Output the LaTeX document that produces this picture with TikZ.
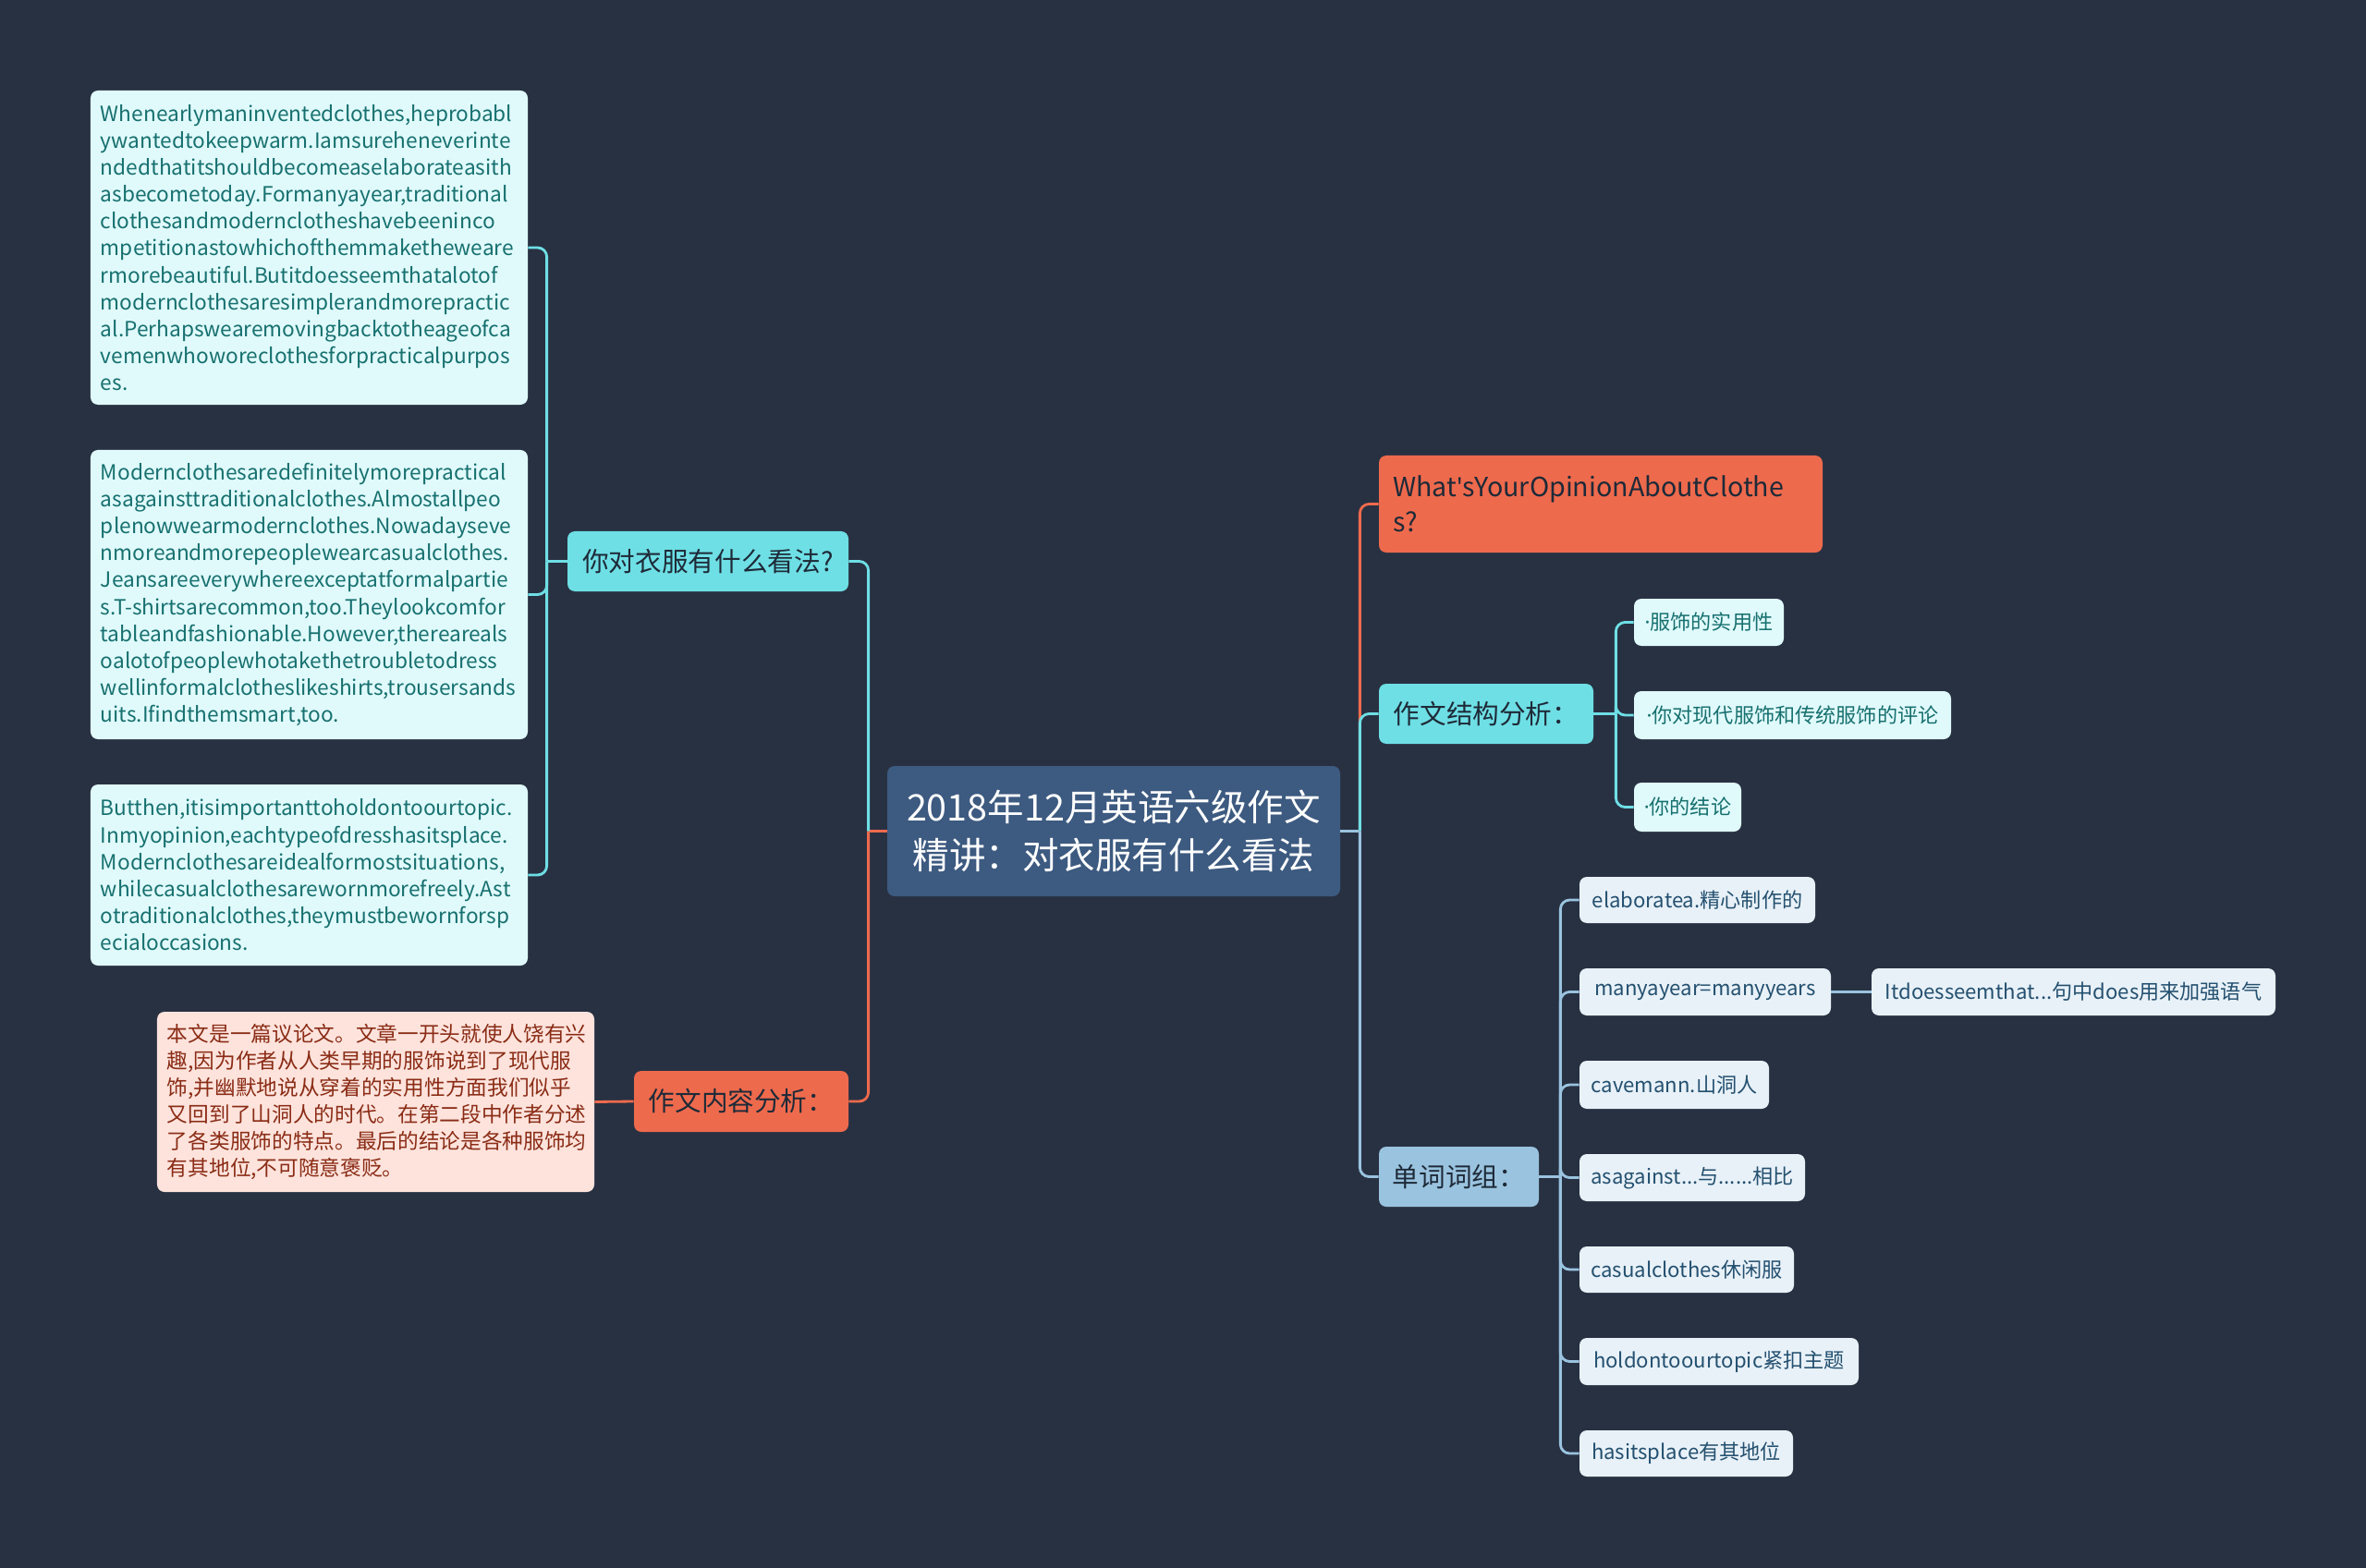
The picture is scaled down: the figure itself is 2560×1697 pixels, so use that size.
\documentclass[tikz,border=0pt]{standalone}
\usepackage{fontspec}
\setmainfont{Noto Sans CJK SC}
\newfontfamily\latinfont{Noto Sans}[Ligatures=TeXOff]
\usetikzlibrary{positioning,calc}
\usepackage{xcolor}
\definecolor{bgdark}{HTML}{283142}
\definecolor{rootblue}{HTML}{3D5A80}
\definecolor{topcyan}{HTML}{6EDFE5}
\definecolor{toporange}{HTML}{EE6A4D}
\definecolor{topblue}{HTML}{9AC3DF}
\definecolor{leafcyan}{HTML}{E0FAFB}
\definecolor{leafpink}{HTML}{FDE3DC}
\definecolor{leafblue}{HTML}{E8F1F8}
\definecolor{inkdark}{HTML}{1E2A38}
\definecolor{inkteal}{HTML}{17706F}
\definecolor{inkred}{HTML}{8A2C16}
\definecolor{inkblue}{HTML}{24506F}
\newcommand{\mdot}{{\latinfont ·}}

\begin{document}
\begin{tikzpicture}[x=0.2mm, y=-0.2mm,
  box/.style={rectangle, rounded corners=1.6mm, inner sep=0pt, align=center},
  rootbox/.style={box, fill=rootblue, text=white, font=\fontsize{22.5}{29.6}\selectfont},
  topicbox/.style={box, text=inkdark, font=\fontsize{16.3}{21.3}\selectfont},
  notebox/.style={box, align=left, inner xsep=2.2mm, font=\fontsize{12.9}{16.6}\selectfont},
  leafbox/.style={box, font=\fontsize{12.6}{16.6}\selectfont},
  ln/.style={line width=1.6pt, rounded corners=2mm}
]
  \fill[bgdark] (0,0) rectangle (2560,1697);
  \useasboundingbox (0,0) rectangle (2560,1697);

  % centre
  \node[rootbox, minimum width=98mm, minimum height=28.2mm] (root) at (1205,899.5)
    {2018年12月英语六级作文\\精讲：对衣服有什么看法};

  % left branches
  \node[topicbox, fill=topcyan, minimum width=60.8mm, minimum height=13mm] (opinion) at (766,607.5) {你对衣服有什么看法?};
  \node[topicbox, fill=toporange, minimum width=46.4mm, minimum height=13.2mm] (content) at (802,1192) {作文内容分析：};

  \node[notebox, fill=leafcyan, text=inkteal, text width=90.2mm, minimum height=68mm] (para1) at (334.5,268)
    {Whenearlymaninventedclothes,heprobabl\\ywantedtokeepwarm.Iamsureheneverinte\\ndedthatitshouldbecomeaselaborateasith\\asbecometoday.Formanyayear,traditional\\clothesandmodernclotheshavebeeninco\\mpetitionastowhichofthemmaketheweare\\rmorebeautiful.Butitdoesseemthatalotof\\modernclothesaresimplerandmorepractic\\al.Perhapswearemovingbacktotheageofca\\vemenwhoworeclothesforpracticalpurpos\\es.};
  \node[notebox, fill=leafcyan, text=inkteal, text width=90.2mm, minimum height=62.6mm] (para2) at (334.5,643.5)
    {Modernclothesaredefinitelymorepractical\\asagainsttraditionalclothes.Almostallpeo\\plenowwearmodernclothes.Nowadayseve\\nmoreandmorepeoplewearcasualclothes.\\Jeansareeverywhereexceptatformalpartie\\s.T-shirtsarecommon,too.Theylookcomfor\\tableandfashionable.However,thereareals\\oalotofpeoplewhotakethetroubletodress\\wellinformalclotheslikeshirts,trousersands\\uits.Ifindthemsmart,too.};
  \node[notebox, fill=leafcyan, text=inkteal, text width=90.2mm, minimum height=39.2mm] (para3) at (334.5,947)
    {Butthen,itisimportanttoholdontoourtopic.\\Inmyopinion,eachtypeofdresshasitsplace.\\Modernclothesareidealformostsituations,\\whilecasualclothesarewornmorefreely.Ast\\otraditionalclothes,theymustbewornforsp\\ecialoccasions.};
  \node[notebox, fill=leafpink, text=inkred, text width=90.2mm, minimum height=39mm] (summary) at (406.5,1192.5)
    {本文是一篇议论文。文章一开头就使人饶有兴\\趣,因为作者从人类早期的服饰说到了现代服\\饰,并幽默地说从穿着的实用性方面我们似乎\\又回到了山洞人的时代。在第二段中作者分述\\了各类服饰的特点。最后的结论是各种服饰均\\有其地位,不可随意褒贬。};

  % right branches
  \node[topicbox, fill=toporange, align=left, inner xsep=3mm, text width=90mm, minimum height=21mm] (title) at (1732,545.5)
    {What{\latinfont '}sYourOpinionAboutClothe\\s?};
  \node[topicbox, fill=topcyan, minimum width=46.4mm, minimum height=13mm] (structure) at (1608,772.5) {作文结构分析：};
  \node[topicbox, fill=topblue, minimum width=34.6mm, minimum height=13mm] (words) at (1578.5,1273.5) {单词词组：};

  \node[leafbox, fill=leafcyan, text=inkteal, minimum width=32.4mm, minimum height=10.2mm] (st1) at (1849,673.5) {\mdot 服饰的实用性};
  \node[leafbox, fill=leafcyan, text=inkteal, minimum width=68.6mm, minimum height=10.4mm] (st2) at (1939.5,774) {\mdot 你对现代服饰和传统服饰的评论};
  \node[leafbox, fill=leafcyan, text=inkteal, minimum width=23.2mm, minimum height=10.6mm] (st3) at (1826,873.5) {\mdot 你的结论};

  \node[leafbox, fill=leafblue, text=inkblue, minimum width=51mm, minimum height=10mm] (wd1) at (1836.5,974) {elaboratea.精心制作的};
  \node[leafbox, fill=leafblue, text=inkblue, minimum width=54.4mm, minimum height=10.2mm] (wd2) at (1845,1073.5) {manyayear=manyyears};
  \node[leafbox, fill=leafblue, text=inkblue, minimum width=87.4mm, minimum height=10.2mm] (wd2note) at (2243.5,1073.5) {Itdoesseemthat...句中does用来加强语气};
  \node[leafbox, fill=leafblue, text=inkblue, minimum width=41mm, minimum height=10.4mm] (wd3) at (1811.5,1174) {cavemann.山洞人};
  \node[leafbox, fill=leafblue, text=inkblue, minimum width=48.8mm, minimum height=10.2mm] (wd4) at (1831,1274.5) {asagainst...与......相比};
  \node[leafbox, fill=leafblue, text=inkblue, minimum width=46.4mm, minimum height=10mm] (wd5) at (1825,1374) {casualclothes休闲服};
  \node[leafbox, fill=leafblue, text=inkblue, minimum width=60.4mm, minimum height=10.2mm] (wd6) at (1860,1473.5) {holdontoourtopic紧扣主题};
  \node[leafbox, fill=leafblue, text=inkblue, minimum width=46.2mm, minimum height=10mm] (wd7) at (1824.5,1573) {hasitsplace有其地位};

  % connectors
  \draw[ln, toporange] (root.west) -- ++(-20,0) coordinate (jleft);
  \draw[ln, topcyan] (jleft) |- (opinion.east);
  \draw[ln, toporange] (jleft) |- (content.east);
  \draw[ln, topblue] (root.east) -- ++(21,0) coordinate (jright);
  \draw[ln, toporange] (jright) |- (title.west);
  \draw[ln, topcyan] (jright) |- (structure.west);
  \draw[ln, topblue] (jright) |- (words.west);

  \draw[ln, topcyan] (opinion.west) -- ++(-22,0) coordinate (jopinion);
  \foreach \p in {para1,para2,para3}
    \draw[ln, topcyan] (jopinion) |- (\p.east);
  \draw[ln, toporange] (content.west) -- (summary.east);

  \draw[ln, topcyan] (structure.east) -- ++(24,0) coordinate (jstructure);
  \foreach \s in {st1,st2,st3}
    \draw[ln, topcyan] (jstructure) |- (\s.west);

  \draw[ln, topblue] (words.east) -- ++(23,0) coordinate (jwords);
  \foreach \w in {wd1,wd2,wd3,wd4,wd5,wd6,wd7}
    \draw[ln, topblue] (jwords) |- (\w.west);
  \draw[ln, topblue] (wd2.east) -- (wd2note.west);
\end{tikzpicture}
\end{document}
